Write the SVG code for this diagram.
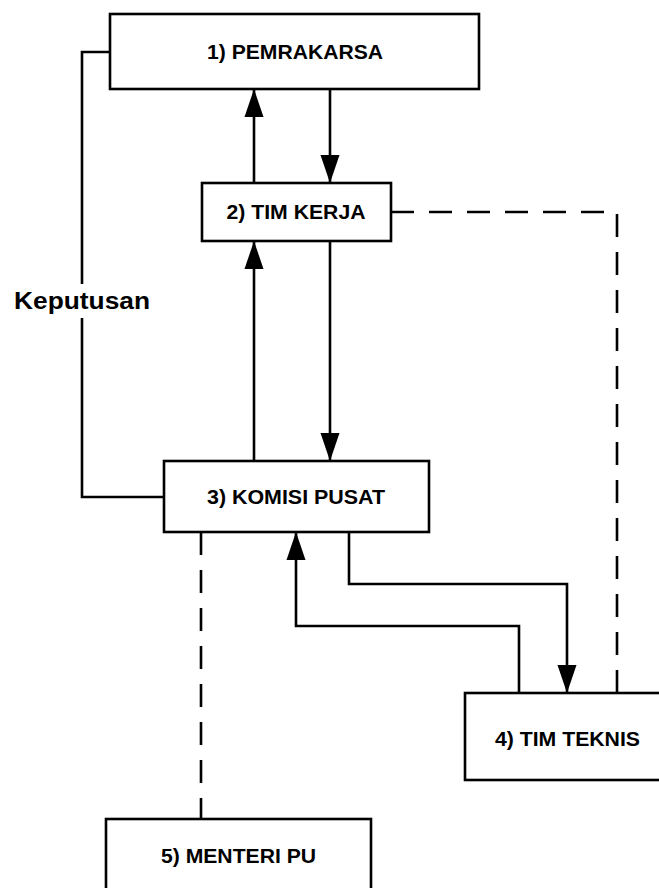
<svg xmlns="http://www.w3.org/2000/svg" width="659" height="888" viewBox="0 0 659 888">
<style>
.box{fill:#fff;stroke:#000;stroke-width:2.6}
.lbl{font-family:"Liberation Sans",Arial,sans-serif;font-weight:bold;font-size:21px;fill:#000;text-anchor:middle}
.ln{fill:none;stroke:#000;stroke-width:2.6}
.dash{fill:none;stroke:#000;stroke-width:2.6;stroke-dasharray:23 15}
</style>
<defs>
<marker id="ah" markerUnits="userSpaceOnUse" markerWidth="28" markerHeight="20" refX="28" refY="10" orient="auto">
<path d="M0,0.5 L28,10 L0,19.5 z" fill="#000"/>
</marker>
</defs>
<rect width="659" height="888" fill="#fff"/>
<g id="connectors">
<path class="ln" d="M110,52 H82 V497 H164"/>
<path class="ln" d="M254,183 V89" marker-end="url(#ah)"/>
<path class="ln" d="M330,89 V183" marker-end="url(#ah)"/>
<path class="ln" d="M254,461 V241" marker-end="url(#ah)"/>
<path class="ln" d="M330,241 V461" marker-end="url(#ah)"/>
<path class="ln" d="M349,532 V584 H567 V693" marker-end="url(#ah)"/>
<path class="ln" d="M519,693 V626 H296 V532" marker-end="url(#ah)"/>
<path class="dash" d="M617,693 V212 H391"/>
<path class="dash" d="M201,532 V819"/>
</g>
<g id="label-keputusan">
<rect x="10" y="284" width="145" height="34" fill="#fff"/>
<text x="14" y="309" font-family="Liberation Sans, Arial, sans-serif" font-weight="bold" font-size="23" textLength="136" lengthAdjust="spacingAndGlyphs">Keputusan</text>
</g>
<g id="n1">
<rect class="box" x="110" y="14" width="369" height="75"/>
<text class="lbl" x="295" y="59" textLength="176" lengthAdjust="spacingAndGlyphs">1) PEMRAKARSA</text>
</g>
<g id="n2">
<rect class="box" x="202" y="183" width="189" height="58"/>
<text class="lbl" x="296" y="219" textLength="139" lengthAdjust="spacingAndGlyphs">2) TIM KERJA</text>
</g>
<g id="n3">
<rect class="box" x="164" y="461" width="265" height="71"/>
<text class="lbl" x="296" y="504" textLength="178" lengthAdjust="spacingAndGlyphs">3) KOMISI PUSAT</text>
</g>
<g id="n4">
<rect class="box" x="465" y="693" width="210" height="87"/>
<text class="lbl" x="567.5" y="746" textLength="145" lengthAdjust="spacingAndGlyphs">4) TIM TEKNIS</text>
</g>
<g id="n5">
<rect class="box" x="106" y="819" width="265" height="80"/>
<text class="lbl" x="238.5" y="863" textLength="155" lengthAdjust="spacingAndGlyphs">5) MENTERI PU</text>
</g>
</svg>
